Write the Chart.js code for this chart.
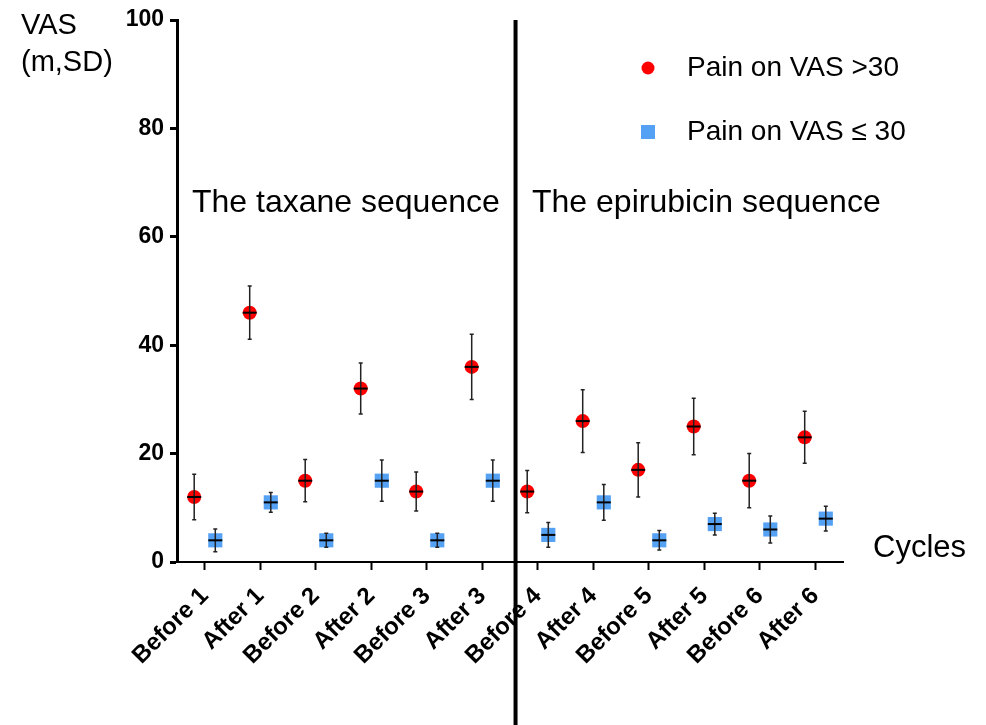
<!DOCTYPE html>
<html>
<head>
<meta charset="utf-8">
<script src="https://cdn.jsdelivr.net/npm/chart.js@4.4.0/dist/chart.umd.min.js"></script>
<style>
  body { margin: 0; background: #fff; }
  canvas { display: block; }
</style>
</head>
<body>
<canvas id="PlotCanvas" width="986" height="725"></canvas>
<script>
var cycleLabels = ['Before 1', 'After 1', 'Before 2', 'After 2', 'Before 3', 'After 3',
                   'Before 4', 'After 4', 'Before 5', 'After 5', 'Before 6', 'After 6'];
var painHighMean = [12, 46, 15, 32, 13, 36, 13, 26, 17, 25, 15, 23];
var painHighSD   = [4.2, 4.9, 3.9, 4.7, 3.6, 6.0, 3.9, 5.8, 5.0, 5.2, 5.0, 4.8];
var painLowMean  = [4, 11, 4, 15, 4, 15, 5, 11, 4, 7, 6, 8];
var painLowSD    = [2.1, 1.8, 1.3, 3.8, 1.3, 3.8, 2.3, 3.3, 1.8, 2.0, 2.5, 2.3];
var seriesNames = ['Pain on VAS >30', 'Pain on VAS \u2264 30'];
var sequenceNames = ['The taxane sequence', 'The epirubicin sequence'];

var FONT = 'Arial, "Liberation Sans", sans-serif';
var OFFSET = 0.19; // red points sit left of the tick, blue ones right

// vertical SD bars with caps + short black mean line through each marker
var errorBars = {
    id: 'errorBars',
    afterDatasetsDraw: function (chart) {
        var ctx = chart.ctx;
        var xs = chart.scales.x, ys = chart.scales.y;
        chart.data.datasets.forEach(function (ds) {
            ds.data.forEach(function (p, i) {
                var px = xs.getPixelForValue(p.x);
                var top = ys.getPixelForValue(p.y + ds.sd[i]);
                var bot = ys.getPixelForValue(p.y - ds.sd[i]);
                var mid = ys.getPixelForValue(p.y);
                ctx.save();
                ctx.strokeStyle = '#222';
                ctx.lineWidth = 1.5;
                ctx.beginPath();
                ctx.moveTo(px, top); ctx.lineTo(px, bot);
                ctx.moveTo(px - 2, top); ctx.lineTo(px + 2, top);
                ctx.moveTo(px - 2, bot); ctx.lineTo(px + 2, bot);
                ctx.stroke();
                ctx.strokeStyle = '#000';
                ctx.lineWidth = 2;
                ctx.beginPath();
                ctx.moveTo(px - 7, mid); ctx.lineTo(px + 7, mid);
                ctx.stroke();
                ctx.restore();
            });
        });
    }
};

// divider, section captions, axis captions and the legend
var annotations = {
    id: 'annotations',
    afterDraw: function (chart) {
        var ctx = chart.ctx;
        var xs = chart.scales.x;
        var area = chart.chartArea;
        ctx.save();
        var divX = xs.getPixelForValue(5.6);
        ctx.strokeStyle = '#000';
        ctx.lineWidth = 4;
        ctx.beginPath();
        ctx.moveTo(divX, area.top);
        ctx.lineTo(divX, chart.height);
        ctx.stroke();

        ctx.fillStyle = '#000';
        ctx.textBaseline = 'middle';
        ctx.textAlign = 'left';
        ctx.font = '32px ' + FONT;
        ctx.fillText(sequenceNames[0], 192, 203);
        ctx.fillText(sequenceNames[1], 532, 203);

        ctx.font = '29px ' + FONT;
        ctx.fillText('VAS', 21, 26);
        ctx.fillText('(m,SD)', 21, 63);
        ctx.font = '31px ' + FONT;
        ctx.fillText('Cycles', 873, 548);

        // legend
        var ds = chart.data.datasets;
        ctx.font = '28px ' + FONT;
        ctx.fillText(seriesNames[0], 687, 68);
        ctx.fillText(seriesNames[1], 687, 132);
        ctx.fillStyle = ds[0].backgroundColor;
        ctx.beginPath();
        ctx.arc(648, 68, 6.5, 0, Math.PI * 2);
        ctx.fill();
        ctx.fillStyle = ds[1].backgroundColor;
        ctx.fillRect(641, 125, 14, 14);
        ctx.restore();
    }
};

var ctx = document.getElementById('PlotCanvas').getContext('2d');
var data = {
    datasets: [{
        label: seriesNames[0],
        data: painHighMean.map((v, i) => ({ x: i - OFFSET, y: v })),
        sd: painHighSD,
        backgroundColor: '#FF0000',
        borderWidth: 0,
        pointStyle: 'circle',
        pointRadius: 7,
        pointHoverRadius: 7
    }, {
        label: seriesNames[1],
        data: painLowMean.map((v, i) => ({ x: i + OFFSET, y: v })),
        sd: painLowSD,
        backgroundColor: '#55A2F5',
        borderWidth: 0,
        pointStyle: 'rect',
        pointRadius: 10,
        pointHoverRadius: 10
    }]
};
var options = {
    responsive: false,
    animation: false,
    layout: { padding: { left: 0, top: 20, right: 143, bottom: 0 } },
    plugins: { legend: { display: false }, tooltip: { enabled: false } },
    scales: {
        x: {
            type: 'linear',
            position: 'bottom',
            min: -0.5,
            max: 11.5,
            afterBuildTicks: function (scale) {
                scale.ticks = cycleLabels.map((l, i) => ({ value: i }));
            },
            afterFit: function (scale) { scale.height = 163; },
            border: { display: true, color: '#000', width: 2 },
            grid: { drawOnChartArea: false, drawTicks: true, tickLength: 8, tickWidth: 2, tickColor: '#000' },
            ticks: {
                autoSkip: false,
                minRotation: 45,
                maxRotation: 45,
                padding: 12,
                color: '#000',
                font: { family: FONT, size: 24, weight: 'bold' },
                callback: function (value) { return cycleLabels[value]; }
            }
        },
        y: {
            type: 'linear',
            position: 'left',
            min: 0,
            max: 100,
            afterFit: function (scale) { scale.width = 177; },
            border: { display: true, color: '#000', width: 3 },
            grid: { drawOnChartArea: false, drawTicks: true, tickLength: 7, tickWidth: 3, tickColor: '#000' },
            ticks: {
                stepSize: 20,
                padding: 6,
                color: '#000',
                font: { family: FONT, size: 23, weight: 'bold' }
            }
        }
    }
};
var currentChart = new Chart(ctx, {
    type: 'scatter',
    data: data,
    options: options,
    plugins: [errorBars, annotations]
});
</script>
</body>
</html>
